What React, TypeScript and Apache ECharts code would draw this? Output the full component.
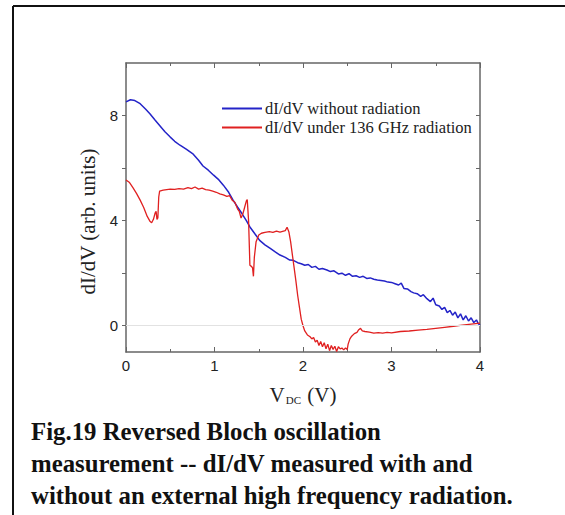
import React, { useEffect, useRef } from "react";
import * as echarts from "echarts";

const blueV = [0.00,0.05,0.10,0.16,0.22,0.27,0.33,0.38,0.44,0.50,0.55,0.61,0.68,0.76,0.82,0.87,0.93,0.99,1.05,1.10,1.16,1.21,1.26,1.31,1.36,1.40,1.46,1.51,1.57,1.63,1.69,1.74,1.80,1.85,1.89,1.94,1.98,2.02,2.06,2.10,2.14,2.18,2.22,2.27,2.31,2.35,2.40,2.44,2.48,2.52,2.56,2.60,2.64,2.68,2.72,2.76,2.80,2.84,2.88,2.92,2.96,3.00,3.04,3.08,3.11,3.14,3.18,3.22,3.25,3.29,3.33,3.36,3.40,3.44,3.47,3.50,3.54,3.57,3.60,3.63,3.66,3.69,3.72,3.75,3.78,3.81,3.84,3.87,3.90,3.93,3.96,3.98,4.00];
const blueG = [8.52,8.60,8.57,8.45,8.25,8.07,7.82,7.62,7.38,7.18,7.02,6.87,6.72,6.53,6.30,6.08,5.92,5.73,5.55,5.35,5.08,4.78,4.52,4.27,4.00,3.76,3.48,3.25,3.08,2.94,2.80,2.69,2.60,2.50,2.49,2.40,2.36,2.30,2.33,2.22,2.26,2.15,2.18,2.12,2.06,2.09,1.97,2.00,1.92,1.98,1.88,1.90,1.84,1.88,1.80,1.82,1.77,1.74,1.72,1.70,1.66,1.65,1.60,1.55,1.62,1.42,1.40,1.30,1.25,1.22,1.12,1.18,1.03,0.92,1.05,0.80,0.75,0.62,0.70,0.50,0.58,0.40,0.52,0.30,0.45,0.22,0.38,0.18,0.30,0.12,0.22,0.08,0.02];

const redV = [0.00,0.04,0.08,0.12,0.16,0.20,0.24,0.27,0.29,0.31,0.33,0.34,0.35,0.36,0.37,0.38,0.42,0.46,0.50,0.55,0.60,0.65,0.70,0.74,0.78,0.82,0.86,0.90,0.94,0.98,1.02,1.06,1.10,1.14,1.17,1.20,1.23,1.26,1.28,1.30,1.32,1.34,1.36,1.37,1.385,1.40,1.42,1.43,1.44,1.45,1.47,1.50,1.53,1.57,1.62,1.66,1.70,1.74,1.78,1.80,1.82,1.84,1.86,1.88,1.90,1.92,1.94,1.96,1.98,2.00,2.02,2.05,2.08,2.10,2.12,2.14,2.16,2.18,2.20,2.22,2.24,2.26,2.28,2.30,2.32,2.34,2.36,2.38,2.40,2.42,2.44,2.46,2.48,2.50,2.51,2.53,2.55,2.58,2.61,2.63,2.65,2.67,2.70,2.75,2.80,2.85,2.90,2.95,3.00,3.10,3.20,3.30,3.40,3.50,3.60,3.70,3.80,3.90,4.00];
const redG = [5.55,5.45,5.25,5.03,4.78,4.50,4.16,3.98,3.92,4.05,4.30,4.35,4.05,4.10,4.90,5.12,5.16,5.18,5.20,5.19,5.22,5.20,5.26,5.22,5.28,5.20,5.24,5.18,5.16,5.12,5.08,5.02,4.98,4.92,4.95,4.78,4.70,4.45,4.35,4.10,4.25,4.50,4.75,4.80,4.00,2.30,2.25,2.20,1.88,2.60,3.20,3.45,3.52,3.55,3.58,3.55,3.60,3.56,3.60,3.62,3.75,3.58,3.20,2.70,2.20,1.70,1.15,0.70,0.25,0.00,-0.20,-0.35,-0.42,-0.50,-0.45,-0.62,-0.55,-0.75,-0.60,-0.80,-0.65,-0.88,-0.70,-0.95,-0.75,-0.90,-0.78,-0.98,-0.80,-0.88,-0.85,-0.92,-0.85,-0.90,-0.70,-0.50,-0.40,-0.30,-0.25,-0.15,-0.10,-0.20,-0.22,-0.24,-0.28,-0.26,-0.28,-0.25,-0.27,-0.22,-0.20,-0.17,-0.14,-0.10,-0.06,-0.02,0.02,0.06,0.10];

const seriesNames = ["dI/dV without radiation", "dI/dV under 136 GHz radiation"];
const yLabelValues = [0, 4, 8];
const yTickValues = [0, 2, 4, 6, 8];
const captionLines = [
  "Fig.19 Reversed Bloch oscillation",
  "measurement -- dI/dV measured with and",
  "without an external high frequency radiation.",
];

const serif = "'Liberation Serif', 'Times New Roman', serif";
const sans = "'Liberation Sans', Arial, sans-serif";
const axisColor = "#666";

export default function App() {
  const ref = useRef<HTMLDivElement>(null);
  useEffect(() => {
    if (!ref.current) return;
    const chart = echarts.init(ref.current, null, { renderer: "svg" });
    const zip = (xs: number[], ys: number[]) => xs.map((x, i) => [x, ys[i]]);
    const grid = { left: 126, top: 63, width: 354, height: 289 };
    const line = { show: true, onZero: false, lineStyle: { color: axisColor, width: 1.5 } };
    chart.setOption({
      animation: false,
      backgroundColor: "#fff",
      grid,
      legend: {
        orient: "vertical",
        left: 217,
        top: 95,
        itemWidth: 40,
        itemHeight: 2,
        itemGap: 2,
        icon: "rect",
        textStyle: { fontFamily: serif, fontSize: 16.5, color: "#222", padding: [0, 0, 0, -2] },
        data: seriesNames,
      },
      xAxis: [
        {
          type: "value",
          min: 0,
          max: 4,
          interval: 1,
          position: "bottom",
          name: "{v|V}{s|DC}{v| (V)}",
          nameLocation: "middle",
          nameGap: 32,
          nameTextStyle: {
            rich: {
              v: { fontFamily: serif, fontSize: 21, color: "#222" },
              s: { fontFamily: serif, fontSize: 11, color: "#222", verticalAlign: "bottom", padding: [10, 1, 0, 1] },
            },
          },
          axisLine: line,
          axisTick: { show: true, inside: true, length: 5, lineStyle: { color: axisColor } },
          minorTick: { show: true, splitNumber: 2, length: 3, lineStyle: { color: axisColor } },
          axisLabel: { fontFamily: sans, fontSize: 15, color: "#222", margin: 6 },
          splitLine: { show: false },
        },
        {
          type: "value",
          min: 0,
          max: 4,
          interval: 1,
          position: "top",
          axisLine: line,
          axisTick: { show: true, inside: true, length: 5, lineStyle: { color: axisColor } },
          minorTick: { show: true, splitNumber: 2, length: 3, lineStyle: { color: axisColor } },
          axisLabel: { show: false },
          splitLine: { show: false },
        },
      ],
      yAxis: [
        {
          type: "value",
          min: -1,
          max: 10,
          position: "left",
          name: "dI/dV (arb. units)",
          nameLocation: "middle",
          nameGap: 24,
          nameTextStyle: { fontFamily: serif, fontSize: 21, color: "#222", padding: [0, 28, 0, 0] },
          axisLine: line,
          axisTick: { show: true, inside: false, length: 4, customValues: yTickValues, lineStyle: { color: axisColor } },
          axisLabel: { fontFamily: sans, fontSize: 15, color: "#222", margin: 8, customValues: yLabelValues },
          splitLine: { show: false },
        },
        {
          type: "value",
          min: -1,
          max: 10,
          position: "right",
          axisLine: line,
          axisTick: { show: true, inside: true, length: 4, customValues: yTickValues, lineStyle: { color: axisColor } },
          axisLabel: { show: false },
          splitLine: { show: false },
        },
      ],
      series: [
        {
          name: seriesNames[0],
          type: "line",
          data: zip(blueV, blueG),
          showSymbol: false,
          lineStyle: { color: "#2424c8", width: 1.5 },
          itemStyle: { color: "#2424c8" },
          clip: true,
          z: 3,
          markLine: {
            silent: true,
            symbol: "none",
            label: { show: false },
            lineStyle: { color: "#e2e2e2", type: "solid", width: 1 },
            data: [{ yAxis: 0 }],
          },
        },
        {
          name: seriesNames[1],
          type: "line",
          data: zip(redV, redG),
          showSymbol: false,
          lineStyle: { color: "#e02020", width: 1.3 },
          itemStyle: { color: "#e02020" },
          clip: true,
          z: 4,
        },
      ],
      graphic: [
        { type: "line", shape: { x1: 13, y1: 6, x2: 565, y2: 6 }, style: { stroke: "#111", lineWidth: 2 } },
        { type: "line", shape: { x1: 13, y1: 6, x2: 13, y2: 515 }, style: { stroke: "#111", lineWidth: 2 } },
        {
          type: "text",
          left: 31,
          top: 415,
          style: {
            text: captionLines.join("\n"),
            fontFamily: serif,
            fontWeight: "bold",
            fontSize: 24.8,
            lineHeight: 32,
            fill: "#111",
          },
        },
      ],
    });
    return () => chart.dispose();
  }, []);
  return <div ref={ref} style={{ position: "fixed", left: 0, top: 0, width: 565, height: 515 }} />;
}
